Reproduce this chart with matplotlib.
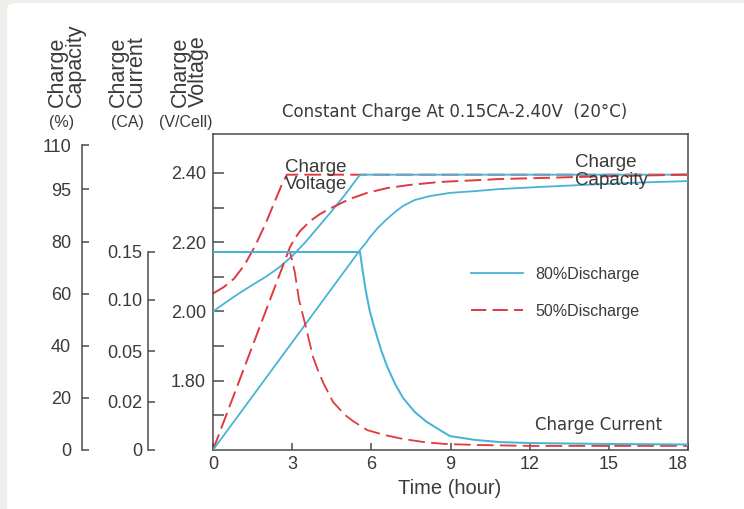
import numpy as np
import matplotlib
matplotlib.use("Agg")
import matplotlib.pyplot as plt
from matplotlib.lines import Line2D
from matplotlib.patches import FancyBboxPatch
from matplotlib.ticker import FixedLocator

plt.rcParams['font.family'] = ['Liberation Sans', 'DejaVu Sans']
plt.rcParams['lines.scale_dashes'] = False

# ---------------- data ----------------
time_ticks = [0, 3, 6, 9, 12, 15, 18]
volt_ticks = [1.80, 2.00, 2.20, 2.40]
volt_minor = [1.70, 1.90, 2.10, 2.30]
cap_ticks = [0, 20, 40, 60, 80, 95, 110]
cur_ticks = [0, 0.02, 0.05, 0.10, 0.15]
cur_tick_labels = ['0', '0.02', '0.05', '0.10', '0.15']

# 80% discharge (solid blue)
v80_t = [0, 0.5, 1, 1.5, 2, 2.5, 3, 3.5, 4, 4.5, 5, 5.57, 18]
v80_v = [2.00, 2.027, 2.053, 2.077, 2.10, 2.127, 2.16, 2.20, 2.245, 2.29, 2.337, 2.395, 2.395]
i80_t = [0, 5.57, 5.68, 5.80, 5.95, 6.14, 6.37, 6.59, 6.9, 7.2, 7.65, 8.1, 8.6, 8.98,
         9.93, 10.88, 12, 15, 18]
i80_i = [0.15, 0.15, 0.129, 0.108, 0.088, 0.0706, 0.051, 0.0412, 0.0306, 0.0224, 0.0158,
         0.0117, 0.0083, 0.0058, 0.0042, 0.0033, 0.0029, 0.0025, 0.0023]
c80_t = [0, 5.57, 5.76, 5.95, 6.25, 6.59, 6.9, 7.2, 7.65, 8.22, 8.98, 9.93, 10.88,
         12.39, 14.29, 16.18, 18]
c80_c = [0, 76.9, 79.2, 81.4, 84.0, 86.5, 88.5, 90.2, 91.9, 93.0, 93.9, 94.4, 95.0,
         95.7, 96.5, 97.2, 97.7]

# 50% discharge (dashed red)
v50_t = [0, 0.4, 0.8, 1.2, 1.6, 2.0, 2.3, 2.6, 2.8, 18]
v50_v = [2.052, 2.07, 2.095, 2.135, 2.19, 2.255, 2.31, 2.365, 2.395, 2.395]
i50_t = [0, 2.92, 3.1, 3.26, 3.5, 3.79, 4.0, 4.2, 4.55, 5.0, 5.3, 5.84, 6.5, 7.2,
         8.0, 8.8, 10, 12, 18]
i50_i = [0.15, 0.15, 0.129, 0.100, 0.0755, 0.0465, 0.0376, 0.0306, 0.020, 0.0146,
         0.0121, 0.0083, 0.00625, 0.0046, 0.0033, 0.0025, 0.0021, 0.0017, 0.0017]
c50_t = [0, 2.92, 3.11, 3.30, 3.68, 4.05, 4.55, 5.19, 5.84, 6.59, 7.46, 8.6, 9.74,
         10.88, 12.39, 14.66, 18]
c50_c = [0, 78.1, 81.1, 83.1, 85.9, 87.9, 89.9, 92.2, 93.9, 95.3, 96.4, 97.4, 97.9,
         98.4, 98.75, 99.3, 99.9]

legend_labels = ['80%Discharge', '50%Discharge']

# ---------------- style ----------------
BLUE = '#47b4d6'
RED = '#e0393f'
TXT = '#3a3a3a'
SPINE = '#4a4a4a'
W, H = 744, 509
LW_B = 1.3
LW_R = 1.4
DASH = (12, 4.5)

fig = plt.figure(figsize=(W / 100, H / 100), dpi=100, facecolor='#efeeeb')
card = FancyBboxPatch((7 / W, -0.05), 1.1, 506 / H + 0.05,
                      boxstyle='round,pad=0,rounding_size=0.012',
                      transform=fig.transFigure, facecolor='white',
                      edgecolor='none', zorder=-10)
fig.patches.append(card)


def box(x0, y0, x1, y1):
    return [x0 / W, 1 - y1 / H, (x1 - x0) / W, (y1 - y0) / H]


def piecewise(a, b):
    a = np.asarray(a, float)
    b = np.asarray(b, float)

    def make(p, q):
        s0 = (q[1] - q[0]) / (p[1] - p[0])
        s1 = (q[-1] - q[-2]) / (p[-1] - p[-2])

        def f(v):
            v = np.asarray(v, float)
            out = np.interp(v, p, q)
            out = np.where(v < p[0], q[0] + (v - p[0]) * s0, out)
            out = np.where(v > p[-1], q[-1] + (v - p[-1]) * s1, out)
            return out
        return f
    return make(a, b), make(b, a)


# pixel heights of the (irregular) printed tick marks
cap_fwd, cap_inv = piecewise(cap_ticks, [0, 52, 104, 156, 208, 261, 305])
cur_fwd, cur_inv = piecewise(cur_ticks, [0, 48, 99, 150, 198])
MAIN_H = 316

# ---------------- main axes (voltage) ----------------
main = fig.add_axes(box(213, 134, 688, 450))
main.set_facecolor('none')
main.set_xlim(0, 18)
main.set_ylim(1.60, 2.5125)
main.set_xticks(time_ticks)
main.set_xticklabels([str(t) for t in time_ticks])
main.set_yticks(volt_ticks)
main.set_yticklabels(['%.2f' % v for v in volt_ticks])
main.yaxis.set_minor_locator(FixedLocator(volt_minor))
for s in main.spines.values():
    s.set_color(SPINE)
    s.set_linewidth(1.1)
main.tick_params(axis='y', which='both', direction='in', length=8, width=1.1,
                 color=SPINE, labelsize=13, labelcolor=TXT, pad=5)
main.tick_params(axis='x', which='both', direction='in', length=5, width=1.1,
                 color=SPINE, labelsize=13, labelcolor=TXT, pad=4)
xl = main.get_xticklabels()
xl[-1].set_horizontalalignment('right')

main.plot(v80_t, v80_v, color=BLUE, lw=LW_B, zorder=3)
main.plot(v50_t, v50_v, color=RED, lw=LW_R, dashes=DASH, zorder=2)

# capacity curves
cap_tw = main.twinx()
cap_tw.set_yscale('function', functions=(cap_fwd, cap_inv))
cap_tw.set_ylim(0, float(cap_inv(MAIN_H)))
cap_tw.axis('off')
cap_tw.plot(c50_t, c50_c, color=RED, lw=LW_R, dashes=DASH, zorder=2)
cap_tw.plot(c80_t, c80_c, color=BLUE, lw=LW_B, zorder=3)

# current curves (red flat part lies under the blue one)
cur_tw = main.twinx()
cur_tw.set_yscale('function', functions=(cur_fwd, cur_inv))
cur_tw.set_ylim(0, float(cur_inv(MAIN_H)))
cur_tw.axis('off')
cur_tw.plot(i50_t, i50_i, color=RED, lw=LW_B, dashes=DASH, zorder=2)
cur_tw.plot(i80_t, i80_i, color=BLUE, lw=LW_B + 0.15, zorder=3)

# ---------------- side axes ----------------
def side_axis(rect, ticks, labels, fwd, inv, lim, pad):
    ax = fig.add_axes(rect)
    ax.set_facecolor('none')
    ax.set_yscale('function', functions=(fwd, inv))
    ax.set_ylim(*lim)
    ax.set_yticks(ticks)
    ax.set_yticklabels(labels)
    ax.minorticks_off()
    ax.set_xticks([])
    for k in ('top', 'right', 'bottom'):
        ax.spines[k].set_visible(False)
    ax.spines['left'].set_color(SPINE)
    ax.spines['left'].set_linewidth(1.1)
    ax.tick_params(axis='y', direction='in', length=5, width=1.1, color=SPINE,
                   labelsize=13, labelcolor=TXT, pad=pad)
    return ax


side_axis(box(82, 145, 92, 450), cap_ticks, [str(c) for c in cap_ticks],
          cap_fwd, cap_inv, (0, 110), 8)
side_axis(box(148, 252, 158, 450), cur_ticks, cur_tick_labels,
          cur_fwd, cur_inv, (0, 0.15), 4)

# ---------------- texts ----------------
fig.text(455 / W, 1 - 112 / H, 'Constant Charge At 0.15CA-2.40V  (20°C)',
         ha='center', va='center', fontsize=12, family='DejaVu Sans', color=TXT)
fig.text(285 / W, 1 - 176 / H, 'Charge\nVoltage', ha='left', va='center',
         fontsize=13.5, linespacing=1.05, color=TXT)
fig.text(575 / W, 1 - 171.5 / H, 'Charge\nCapacity', ha='left', va='center',
         fontsize=13.5, linespacing=1.05, color=TXT)
fig.text(599 / W, 1 - 425 / H, 'Charge Current', ha='center', va='center',
         fontsize=12, family='DejaVu Sans', color=TXT)
fig.text(450 / W, 1 - 488 / H, 'Time (hour)', ha='center', va='center',
         fontsize=14.5, color=TXT)

for xc, lab in [(66, 'Charge\nCapacity'), (127, 'Charge\nCurrent'), (189, 'Charge\nVoltage')]:
    fig.text(xc / W, 1 - 107 / H, lab, rotation=90, ha='center', va='bottom',
             multialignment='left', fontsize=15.5, linespacing=0.82, color=TXT)
for xc, lab in [(62, '(%)'), (127, '(CA)'), (186, '(V/Cell)')]:
    fig.text(xc / W, 1 - 122 / H, lab, ha='center', va='center',
             fontsize=11.5, color=TXT)

handles = [Line2D([], [], color=BLUE, lw=LW_B),
           Line2D([], [], color=RED, lw=LW_R, dashes=(11, 4.5))]
fig.legend(handles, legend_labels, loc='upper left',
           bbox_to_anchor=(471 / W, 1 - 267 / H), bbox_transform=fig.transFigure,
           frameon=False, fontsize=11.5, handlelength=3.25, handletextpad=0.75,
           labelspacing=1.35, borderpad=0, borderaxespad=0, labelcolor=TXT)

fig.savefig('out.png', dpi=100, facecolor=fig.get_facecolor())
